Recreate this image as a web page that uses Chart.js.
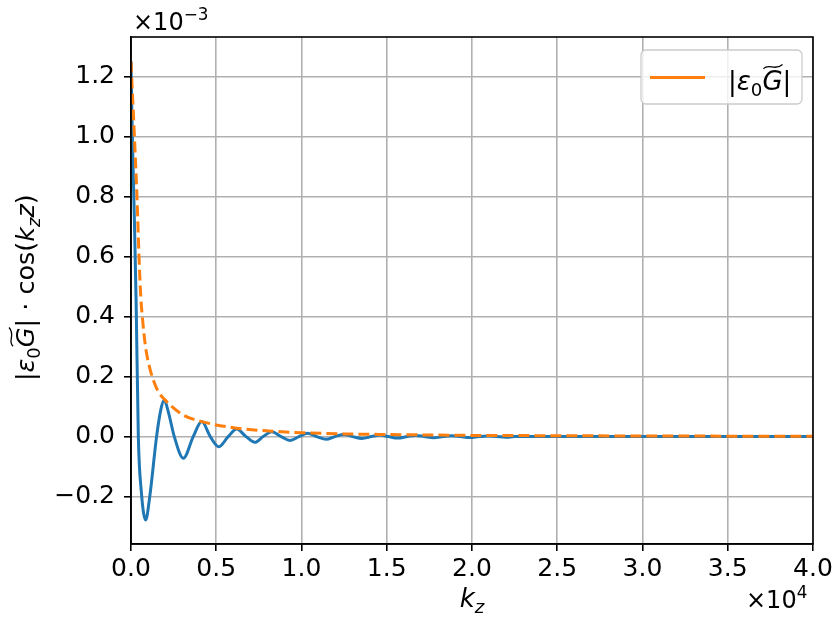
<!DOCTYPE html>
<html>
<head>
<meta charset="utf-8">
<script src="https://cdn.jsdelivr.net/npm/chart.js@4/dist/chart.umd.min.js"></script>
<style>
  html, body { margin: 0; padding: 0; background: #fff; }
  #wrap { width: 839px; height: 623px; }
</style>
</head>
<body>
<div id="wrap"><canvas id="c" width="839" height="623"></canvas></div>
<script>
// values: kz in units of 1e4, amplitude in units of 1e-3
const kzCos  = [0, 0.005, 0.01, 0.02, 0.03, 0.043, 0.06, 0.086, 0.11, 0.15, 0.175, 0.195, 0.22, 0.254,
                0.307, 0.365, 0.415, 0.465, 0.515, 0.57, 0.62, 0.675, 0.727, 0.775, 0.825, 0.88, 0.933,
                0.985, 1.035, 1.09, 1.145, 1.195, 1.25, 1.3, 1.355, 1.41, 1.46, 1.51, 1.565, 1.62, 1.67,
                1.72, 1.775, 1.83, 1.88, 1.935, 1.985, 2.04, 2.09, 2.145, 2.2, 2.25, 2.5, 3.0, 3.5, 4.0];
const valCos = [1.25, 1.08, 0.95, 0.72, 0.45, 0.0, -0.18, -0.278, -0.2, 0.0, 0.09, 0.122, 0.08, 0.0,
                -0.072, 0.0, 0.05, 0.0, -0.034, 0.0, 0.025, 0.0, -0.019, 0.0, 0.016, 0.0, -0.013,
                0.0, 0.011, 0.0, -0.009, 0.0, 0.007, 0.0, -0.006, 0.0, 0.005, 0.0, -0.005, 0.0, 0.004,
                0.0, -0.004, 0.0, 0.003, 0.0, -0.003, 0.0, 0.002, 0.0, -0.002, 0.0, 0.0, 0.0, 0.0, 0.0];

const kzEnv  = [0, 0.004, 0.02, 0.035, 0.047, 0.057, 0.068, 0.085, 0.105, 0.13, 0.16, 0.195, 0.3, 0.415,
                0.62, 0.825, 1.0, 1.25, 1.5, 2.0, 2.5, 3.0, 3.5, 4.0];
const valEnv = [1.25, 1.2, 1.0, 0.8, 0.6, 0.47, 0.39, 0.3, 0.24, 0.19, 0.15, 0.125, 0.074, 0.05,
                0.028, 0.018, 0.013, 0.009, 0.007, 0.004, 0.003, 0.002, 0.0015, 0.001];

const xTicks = [0, 0.5, 1.0, 1.5, 2.0, 2.5, 3.0, 3.5, 4.0];
const yTicks = [-0.2, 0, 0.2, 0.4, 0.6, 0.8, 1.0, 1.2];

const BLUE = '#1f77b4', ORANGE = '#ff7f0e';
const FONT = '"DejaVu Sans", sans-serif';
const FS = 24;

// draws a run of mathtext-ish pieces, returns width
function mathRun(ctx, x, y, parts, size) {
  let cx = x;
  parts.forEach(p => {
    const fs = (p.sub || p.sup) ? size * 0.7 : size;
    ctx.font = (p.it ? 'italic ' : '') + fs + 'px ' + FONT;
    const w = ctx.measureText(p.t).width;
    const dy = p.sub ? size * 0.22 : p.sup ? -size * 0.42 : 0;
    ctx.fillText(p.t, cx, y + dy);
    if (p.tilde) {
      const ty = y - size * 0.9;
      ctx.save();
      ctx.lineWidth = 1.3;
      ctx.beginPath();
      ctx.moveTo(cx + 1, ty + 2);
      ctx.bezierCurveTo(cx + w * 0.35, ty - 4, cx + w * 0.6, ty + 5, cx + w, ty - 2);
      ctx.stroke();
      ctx.restore();
    }
    cx += w + (p.gap || 0);
  });
  return cx - x;
}

const epsG = [
  { t: '|' }, { t: 'ε', it: true }, { t: '0', sub: true }, { t: 'G', it: true, tilde: true }, { t: '|' }
];

const decor = {
  id: 'decor',
  afterDraw(chart) {
    const ctx = chart.ctx, a = chart.chartArea;
    ctx.save();
    // spines
    ctx.strokeStyle = '#000';
    ctx.lineWidth = 1.6;
    ctx.strokeRect(a.left, a.top, a.right - a.left, a.bottom - a.top);

    ctx.fillStyle = '#000';
    ctx.strokeStyle = '#000';
    ctx.textBaseline = 'alphabetic';
    ctx.textAlign = 'left';

    // offset texts
    mathRun(ctx, 133, 30, [{ t: '×10' }, { t: '−3', sup: true }], FS);
    mathRun(ctx, 746, 608, [{ t: '×10' }, { t: '4', sup: true }], FS);

    // x title
    const xs = 26;
    ctx.font = 'italic ' + xs + 'px ' + FONT;
    const kw = ctx.measureText('k').width;
    ctx.font = 'italic ' + (xs * 0.7) + 'px ' + FONT;
    const zw = ctx.measureText('z').width;
    mathRun(ctx, (a.left + a.right) / 2 - (kw + zw) / 2, 607, [{ t: 'k', it: true }, { t: 'z', it: true, sub: true }], xs);

    // y title
    ctx.save();
    ctx.translate(34, 381);
    ctx.rotate(-Math.PI / 2);
    mathRun(ctx, 0, 0, epsG.concat([
      { t: ' · cos(' }, { t: 'k', it: true }, { t: 'z', it: true, sub: true }, { t: 'z', it: true }, { t: ')' }
    ]), 25.5);
    ctx.restore();

    // legend
    const lx = 641, ly = 50, lw = 161, lh = 54;
    ctx.fillStyle = 'rgba(255,255,255,0.8)';
    ctx.strokeStyle = '#cccccc';
    ctx.lineWidth = 1.3;
    ctx.beginPath();
    ctx.roundRect(lx, ly, lw, lh, 5);
    ctx.fill();
    ctx.stroke();
    ctx.strokeStyle = ORANGE;
    ctx.lineWidth = 3;
    ctx.beginPath();
    ctx.moveTo(650, 77.5);
    ctx.lineTo(705, 77.5);
    ctx.stroke();
    ctx.fillStyle = '#000';
    ctx.strokeStyle = '#000';
    mathRun(ctx, 728, 90, epsG, 26);
    ctx.restore();
  }
};

new Chart(document.getElementById('c'), {
  type: 'line',
  data: {
    datasets: [
      {
        label: 'envelope',
        data: kzEnv.map((k, i) => ({ x: k, y: valEnv[i] })),
        borderColor: ORANGE,
        borderWidth: 3,
        borderDash: [11, 5],
        pointRadius: 0,
        cubicInterpolationMode: 'monotone',
        order: 0
      },
      {
        label: 'cos',
        data: kzCos.map((k, i) => ({ x: k, y: valCos[i] })),
        borderColor: BLUE,
        borderWidth: 3,
        pointRadius: 0,
        cubicInterpolationMode: 'monotone',
        order: 1
      }
    ]
  },
  options: {
    responsive: false,
    devicePixelRatio: 1,
    animation: false,
    layout: { padding: { left: 0, top: 37, right: 26, bottom: 0 } },
    plugins: { legend: { display: false }, tooltip: { enabled: false } },
    scales: {
      x: {
        type: 'linear',
        min: 0, max: 4,
        afterBuildTicks: s => { s.ticks = xTicks.map(v => ({ value: v })); },
        afterFit: s => { s.height = 79; },
        grid: { color: '#b0b0b0', lineWidth: 1.6, tickColor: '#000', tickLength: 7 },
        border: { color: '#000', width: 1.6 },
        ticks: { color: '#000', font: { family: 'DejaVu Sans', size: 25 }, padding: 3,
                 maxRotation: 0, callback: v => v.toFixed(1) }
      },
      y: {
        type: 'linear',
        min: -0.358, max: 1.332,
        afterBuildTicks: s => { s.ticks = yTicks.map(v => ({ value: v })); },
        afterFit: s => { s.width = 131; },
        grid: { color: '#b0b0b0', lineWidth: 1.6, tickColor: '#000', tickLength: 7 },
        border: { color: '#000', width: 1.6 },
        ticks: { color: '#000', font: { family: 'DejaVu Sans', size: 25 }, padding: 9,
                 callback: v => (v < 0 ? '\u2212' : '') + Math.abs(v).toFixed(1) }
      }
    }
  },
  plugins: [decor]
});
</script>
</body>
</html>
